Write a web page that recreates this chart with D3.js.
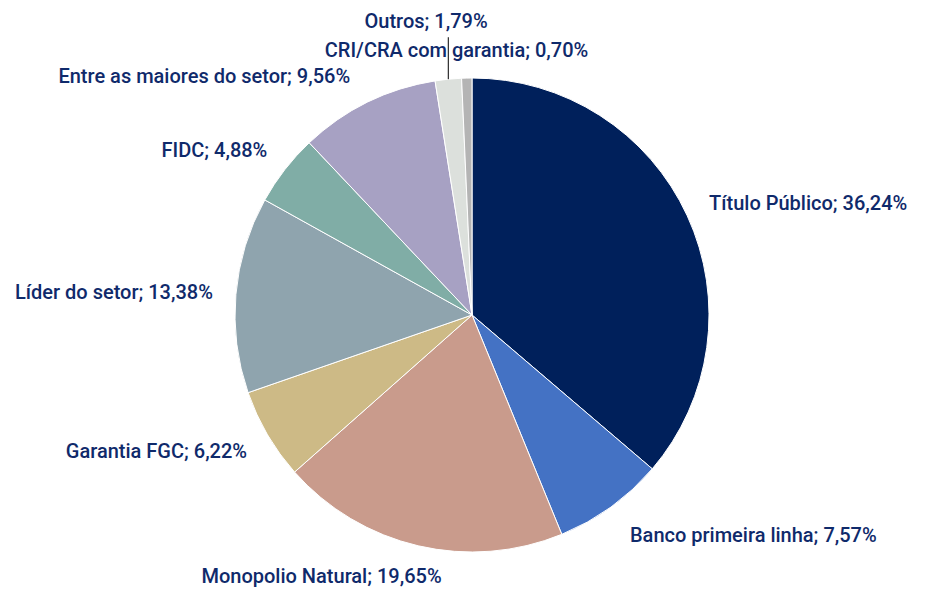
<!DOCTYPE html>
<html>
<head>
<meta charset="utf-8">
<script src="https://cdn.jsdelivr.net/npm/d3@7"></script>
<style>
  body { margin: 0; background: #fff; }
  .label { font-family: Roboto, "Open Sans", sans-serif; font-weight: 500; font-size: 20px; fill: #0f2a6b; }
</style>
</head>
<body>
<svg id="chart" width="930" height="591"></svg>
<script>
// data, clockwise from 12 o'clock
const categories = ["Título Público", "Banco primeira linha", "Monopolio Natural", "Garantia FGC",
                    "Líder do setor", "FIDC", "Entre as maiores do setor", "Outros", "CRI/CRA com garantia"]
const values = [36.24, 7.57, 19.65, 6.22, 13.38, 4.88, 9.56, 1.79, 0.70]
const colors = ["#00205b", "#4472c4", "#c99b8c", "#cdba86", "#8fa4ae", "#80ada6", "#a7a1c3", "#dce0dc", "#b4b4b4"]

// label placement: side of the pie and nudge from the outer point (Excel-ish layout)
const labelAnchor = ["start", "start", "middle", "end", "end", "end", "end", "middle", "middle"]
const labelNudge = [[11, -1], [12, 25], [-94, 25], [-10, 17], [-11, 6], [-8, -5], [-12, -9], [-21, -39], [-10, -9]]

const cx = 472, cy = 315, R = 237

const svg = d3.select("#chart")
const g = svg.append("g").attr("transform", `translate(${cx},${cy})`)

const data = categories.map((c, i) => ({name: c, value: values[i], i: i}))
const pie = d3.pie().sort(null).value(d => d.value)
const arcs = pie(data)
const arc = d3.arc().innerRadius(0).outerRadius(R)
const labelArc = d3.arc().innerRadius(R + 12).outerRadius(R + 12)
const edgeArc = d3.arc().innerRadius(R).outerRadius(R)

g.selectAll(".slice")
  .data(arcs)
  .join("path")
  .attr("class", "slice")
  .attr("d", arc)
  .attr("fill", d => colors[d.data.i])
  .attr("stroke", "#fff")
  .attr("stroke-width", 1)

const fmt = v => v.toFixed(2).replace(".", ",") + "%"

const labels = g.selectAll(".label")
  .data(arcs)
  .join("text")
  .attr("class", "label")
  .attr("text-anchor", d => labelAnchor[d.data.i])
  .attr("x", d => labelArc.centroid(d)[0] + labelNudge[d.data.i][0])
  .attr("y", d => labelArc.centroid(d)[1] + labelNudge[d.data.i][1])
  .text(d => `${d.data.name}; ${fmt(d.data.value)}`)

// leader line for "Outros"
const outros = arcs[7]
const p = edgeArc.centroid(outros)
const ly = labelArc.centroid(outros)[1] + labelNudge[7][1]
g.append("line")
  .attr("x1", p[0]).attr("y1", p[1])
  .attr("x2", p[0]).attr("y2", ly + 9)
  .attr("stroke", "#000")
  .attr("stroke-width", 1)
</script>
</body>
</html>
